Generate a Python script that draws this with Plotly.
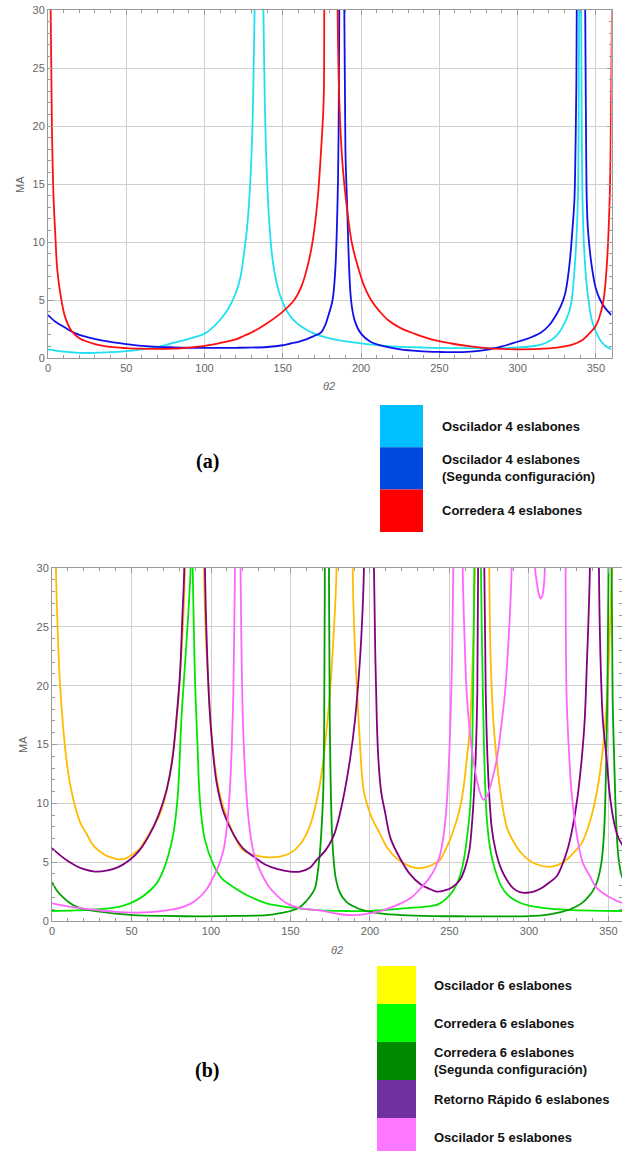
import plotly.graph_objects as go

# ---------------------------------------------------------------------------
# Data (theta2 in degrees, MA dimensionless).
# None splits a curve where it runs off the top at an asymptote.
# ---------------------------------------------------------------------------

# (a) Oscilador 4 eslabones
osc4_theta = [0, 10, 20, 25, 30, 40, 50, 60, 70, 80, 90, 100, 105, 110, 115, 120, 123, 125, 127, 128.5, 130, 131, 132, 133,
              None,
              136.5, 137.6, 138.5, 139.5, 141, 143, 145, 148, 152, 156, 162, 170, 180, 195, 215, 240, 265, 290, 305, 315,
              322, 326, 330, 333, 334.6, 336, 337.5, 338.5, 339, 339.3, 339.7,
              None,
              340.2, 340.6, 341, 341.5, 342.5, 344, 345.3, 347, 349, 350.6, 353, 356, 360]
osc4_ma = [0.75, 0.55, 0.45, 0.43, 0.45, 0.5, 0.6, 0.75, 0.95, 1.3, 1.65, 2.1, 2.6, 3.3, 4.2, 5.6, 7.0, 8.8, 11.0, 13.5, 17.5, 22, 30, 45,
           None,
           45, 30, 22, 17, 12.5, 9, 7.2, 5.5, 4.2, 3.4, 2.7, 2.1, 1.7, 1.35, 1.05, 0.9, 0.85, 0.85, 0.95, 1.15,
           1.6, 2.1, 3.0, 4.0, 5.0, 7.0, 10, 13.6, 20, 30, 50,
           None,
           50, 30, 20, 13.6, 9.5, 6.5, 5.0, 3.5, 2.6, 2.1, 1.5, 1.05, 0.75]

# (a) Oscilador 4 eslabones (Segunda configuracion)
osc4b_theta = [0, 5, 10, 17, 25, 35, 50, 65, 80, 100, 120, 140, 150, 155, 160, 165, 170, 174.4, 177, 179, 181.8, 183.5, 185,
               185.7, 186.1, 186.5,
               None,
               188.9, 189.3, 190, 191, 193.6, 196, 200, 206, 215, 225, 237, 250, 258, 270, 280, 290, 300, 305, 315, 320,
               325, 328, 330.3, 332, 333.5, 335, 336.3, 337, 337.5, 337.8, 338.3,
               None,
               342.8, 343.2, 343.7, 344.2, 345, 347.4, 350, 352.8, 356, 360]
osc4b_ma = [3.7, 3.1, 2.7, 2.15, 1.8, 1.5, 1.2, 1.0, 0.92, 0.88, 0.88, 0.95, 1.1, 1.25, 1.4, 1.6, 1.9, 2.2, 2.8, 3.6, 5.0, 7.5, 13.6,
            20, 30, 50,
            None,
            50, 30, 18, 13.6, 5.0, 3.2, 2.1, 1.4, 1.0, 0.75, 0.6, 0.52, 0.5, 0.55, 0.7, 1.0, 1.4, 1.6, 2.2, 2.8,
            3.8, 4.6, 5.5, 6.8, 8.5, 11, 13.6, 18, 23, 30, 50,
            None,
            50, 30, 20, 13.6, 11, 7.9, 6.0, 5.0, 4.3, 3.7]

# (a) Corredera 4 eslabones
corr4_theta = [0.9, 1.7, 2.5, 3.5, 4.6, 6, 8.3, 11, 15.2, 20, 30, 40, 50, 60, 70, 80, 90, 100, 110, 120, 125, 130, 140, 150,
               157.3, 162, 165.8, 169, 172.2, 174.5, 176.1, 176.5, 177,
               None,
               184.5, 185, 186.1, 188, 190.4, 194, 197.9, 202, 206.4, 212, 217, 225, 234, 245, 257.7, 270, 280, 290, 300,
               310, 315.4, 325, 335, 341, 345, 349.6, 352, 354.9, 357, 358.8, 359.6, 360.3, 360.6]
corr4_ma = [50, 30, 20, 14, 10.8, 7.5, 5.2, 3.5, 2.3, 1.7, 1.2, 0.95, 0.85, 0.8, 0.78, 0.8, 0.9, 1.05, 1.3, 1.6, 1.9, 2.2, 3.0, 4.0,
            5.0, 6.2, 7.9, 10, 13.6, 18, 22.2, 30, 50,
            None,
            50, 30, 22.2, 17, 13.6, 10, 7.9, 6.2, 5.0, 4.0, 3.3, 2.6, 2.1, 1.6, 1.25, 1.0, 0.85, 0.78, 0.75,
            0.76, 0.8, 0.9, 1.15, 1.5, 2.0, 2.7, 3.4, 5.0, 8.0, 13.6, 20, 30, 50]

# (b) Oscilador 6 eslabones
osc6_theta = [1.8, 2.5, 3.5, 5, 7, 9, 11.3, 15, 18, 21.8, 26, 32.3, 37, 41.7, 46, 50, 55, 57.4, 62, 67.9, 72, 76.3, 79, 81.5, 83,
              83.6, 84.2,
              None,
              95, 95.6, 96.5, 98.3, 100, 102.5, 106, 110, 115, 120.3, 127, 133, 138, 144, 149.7, 156, 162, 167.5, 170.5,
              172.5, 174.8, 177, 179, 179.6,
              None,
              188.5, 189.1, 190, 191.6, 193.5, 195.8, 198, 201, 206.3, 210.5, 216, 222, 229.4, 236, 241, 244, 248, 252,
              256.6, 259, 260.8, 262.9, 264, 265.2, 266, 266.6,
              None,
              274.4, 275, 275.9, 277.6, 279.7, 282, 286, 290, 295, 299.6, 305, 312.2, 318, 323.6, 328, 333.1, 338, 342.6,
              345.5, 347.8, 349.5, 351, 352, 352.6]
osc6_ma = [50, 30, 25, 20.2, 16.5, 13.8, 11.7, 9.5, 8.3, 7.4, 6.4, 5.7, 5.4, 5.24, 5.3, 5.6, 6.1, 6.6, 7.6, 9.1, 11, 14.5, 18, 23, 27,
           30, 50,
           None,
           50, 30, 25, 20.2, 16.5, 13.1, 10.5, 8.8, 7.1, 6.0, 5.6, 5.45, 5.4, 5.5, 5.75, 6.5, 8.0, 10.9, 13.5,
           16, 19.4, 24, 30, 50,
           None,
           50, 30, 25, 20.2, 15.5, 11.3, 10, 8.8, 7.4, 6.3, 5.4, 4.85, 4.5, 4.6, 4.9, 5.2, 6.2, 7.5,
           9.6, 11.5, 13.7, 16.5, 20, 25, 30, 50,
           None,
           50, 30, 22.2, 17, 13.7, 11, 8.0, 6.8, 5.8, 5.2, 4.8, 4.6, 4.75, 5.2, 5.8, 6.6, 8.3, 10.9,
           13.5, 16.5, 20, 25.2, 30, 50]

# (b) Corredera 6 eslabones
corr6_theta = [0, 15, 30, 42, 49, 55, 60, 65.8, 70, 73, 76.3, 79, 81.5, 83.5, 85.7, 86.7, 87.2, 87.6,
               None,
               88.2, 88.5, 89.2, 90, 91.5, 93, 96, 101.5, 107, 114, 124, 135, 150, 168.5, 185, 200, 210, 219.4, 230, 240,
               244, 248, 252.4, 256, 259, 261.4, 262.9, 264, 264.6, 265.2, 265.6, 266,
               None,
               269.4, 269.8, 270.4, 271.2, 272.2, 273.6, 276, 279, 282.4, 286, 292, 300, 310, 324, 340, 360]
corr6_ma = [0.85, 0.9, 1.0, 1.2, 1.5, 1.9, 2.4, 3.2, 4.3, 5.5, 7.4, 10.5, 17.4, 21.5, 26, 28.5, 30, 40,
            None,
            40, 30, 25, 20.2, 15, 10.3, 7.0, 4.8, 3.6, 2.9, 2.1, 1.5, 1.15, 0.9, 0.85, 0.85, 0.95, 1.05, 1.15, 1.3,
            1.5, 1.9, 2.6, 3.6, 5.2, 7.5, 9.5, 13, 17.4, 24, 30, 40,
            None,
            40, 30, 24, 18, 12.5, 8.5, 5.8, 4.2, 3.0, 2.3, 1.7, 1.3, 1.1, 0.95, 0.88, 0.85]

# (b) Corredera 6 eslabones (Segunda configuracion)
corr6b_theta = [0, 3, 7, 11, 15.5, 22, 30, 40, 51, 70, 93, 115, 135, 145, 150, 156, 160, 163, 165.4, 167, 168.6, 169.7, 170.6,
                171.2, 171.6, 172,
                None,
                173.8, 174.2, 174.7, 175.3, 176.1, 176.9, 178.5, 181.1, 185, 189.5, 196, 206.3, 220, 240, 260, 283, 300,
                312, 320, 326, 330, 334, 337, 340.4, 343, 345.6, 347.2, 348.3, 349.2, 350, 350.4,
                None,
                351.6, 352, 352.6, 353.6, 354.8, 356.2, 358, 360]
corr6b_ma = [3.3, 2.6, 2.0, 1.55, 1.2, 0.95, 0.8, 0.62, 0.5, 0.43, 0.4, 0.43, 0.5, 0.7, 0.85, 1.2, 1.7, 2.2, 2.8, 4.0, 6.0, 8.3, 11,
             17, 30, 45,
             None,
             45, 30, 17, 11.5, 7.5, 5.6, 3.6, 2.4, 1.65, 1.25, 0.9, 0.65, 0.5, 0.42, 0.4, 0.4, 0.42,
             0.55, 0.75, 1.0, 1.25, 1.6, 2.0, 2.6, 3.4, 5.0, 7.5, 12, 18, 30, 45,
             None,
             45, 30, 19, 13.7, 8.5, 5.5, 4.0, 3.3]

# (b) Retorno Rapido 6 eslabones
rr6_theta = [0, 5, 10, 15, 20, 27, 35, 42, 49, 55, 61.6, 67, 72, 75.5, 78.4, 80.5, 82, 83.2, 83.7,
             None,
             95.7, 96.2, 97.5, 99.4, 101.5, 103.6, 108, 114, 120, 126.6, 134, 142, 149.7, 156, 162, 166.5, 172, 177,
             179, 183, 187.4, 190.5, 193.7, 195.2, 196.2, 196.7,
             None,
             202, 202.5, 203.4, 204.3, 205.3, 207, 209.4, 213, 219, 225, 232, 238, 242, 247, 252, 256.6, 260, 262.5,
             264, 265.5, 266.5, 267.5, 268, 268.4,
             None,
             271.4, 271.9, 272.8, 274, 276.5, 279, 282, 286, 290, 294.3, 298.5, 303, 308, 313, 317.4, 321, 324.5, 327.5,
             330.5, 333.1, 335, 336.5, 337.5, 338.3, 338.8,
             None,
             343.5, 344, 345, 346.5, 348.9, 351, 354.1, 356.5, 360]
rr6_ma = [6.2, 5.6, 5.1, 4.7, 4.4, 4.2, 4.3, 4.6, 5.2, 6.0, 7.4, 9.0, 11.1, 13.5, 17.4, 21, 25.9, 30, 50,
          None,
          50, 30, 23, 17.4, 14, 11.7, 9.2, 7.4, 6.2, 5.5, 4.8, 4.4, 4.2, 4.2, 4.5, 5.2, 6.0, 7.2,
          8.0, 10.3, 13.7, 17, 22.2, 26, 30, 50,
          None,
          50, 30, 22.2, 17, 13.7, 11, 9.3, 7.0, 5.3, 4.0, 3.1, 2.7, 2.5, 2.6, 2.9, 3.5, 4.6, 6.0,
          8.0, 11, 14, 19.4, 30, 50,
          None,
          50, 30, 19.4, 13.5, 8.0, 6.0, 4.6, 3.5, 2.8, 2.45, 2.4, 2.5, 2.8, 3.3, 3.8, 4.8, 6.2, 8.0,
          10.5, 13.7, 17, 22.2, 26, 30, 50,
          None,
          50, 30, 22.2, 17, 13.7, 10.5, 8.0, 7.0, 6.2]

# (b) Oscilador 5 eslabones
osc5_theta = [0, 10, 20, 30, 40, 51, 62, 72, 82.6, 90, 97.3, 101, 104.5, 107.8, 110, 111.8, 113, 114, 114.7, 115.1, 115.5,
              None,
              118.2, 118.6, 119.2, 120, 121.5, 123.5, 126.5, 130.8, 136, 142, 147.6, 156, 168.5, 178, 188, 198, 208,
              219.4, 226, 232, 237, 241, 244, 246, 248, 249.5, 250.8, 251.7, 252.4, 252.8,
              None,
              257.9, 258.3, 259.5, 260.8, 263, 265, 267.5, 269.5, 271.3, 273.5, 276, 279.7, 282.5, 284.9, 287, 288.3,
              289.1, 289.5,
              None,
              303.3, 303.8, 304.8, 305.8, 306.6, 307.3, 308, 308.8, 309.5, 310, 310.5,
              None,
              322.6, 323, 323.6, 324.7, 325.8, 326.8, 328.5, 331, 334, 338.4, 342, 346.7, 351, 357.2, 360]
osc5_ma = [1.5, 1.25, 1.05, 0.9, 0.78, 0.72, 0.75, 0.9, 1.2, 1.7, 2.7, 3.6, 4.6, 6.0, 8.0, 11, 14.5, 19, 25.9, 30, 45,
           None,
           45, 30, 23, 17.4, 12.5, 8.8, 6.0, 4.3, 3.0, 2.1, 1.5, 1.1, 0.9, 0.65, 0.5, 0.6, 0.9,
           1.5, 2.0, 2.8, 3.6, 4.5, 5.6, 7.0, 9.5, 13, 18, 23, 30, 45,
           None,
           45, 30, 24, 19.4, 15.8, 13.7, 11.8, 10.8, 10.3, 10.6, 11.6, 13.7, 16.5, 19.4, 23.5, 27,
           30, 45,
           None,
           40, 30, 28.9, 28.0, 27.6, 27.4, 27.5, 27.9, 28.7, 30, 40,
           None,
           45, 30, 19.4, 15.5, 12.8, 10.9, 8.8, 6.6, 4.9, 3.8, 2.9, 2.35, 2.0, 1.6, 1.5]

# Legend labels and colours
legend_a = ["Oscilador 4 eslabones",
            "Oscilador 4 eslabones<br>(Segunda configuración)",
            "Corredera 4 eslabones"]
legend_a_colors = ["#00BFFF", "#0048E0", "#FF0000"]

legend_b = ["Oscilador 6 eslabones",
            "Corredera 6 eslabones",
            "Corredera 6 eslabones<br>(Segunda configuración)",
            "Retorno Rápido 6 eslabones",
            "Oscilador 5 eslabones"]
legend_b_colors = ["#FFFF00", "#00FF00", "#008A00", "#7030A0", "#FF77FF"]

W, H = 622, 1151
FONT = "Liberation Sans, Arial, sans-serif"


def px(x):
    """pixel x -> paper x"""
    return x / W


def py(y):
    """pixel y (from top) -> paper y"""
    return 1 - y / H


fig = go.Figure()

# Curves of panel (a)
for theta, ma, color in [
    (osc4_theta, osc4_ma, "#1EE0F0"),
    (osc4b_theta, osc4b_ma, "#1010E8"),
    (corr4_theta, corr4_ma, "#FF1010"),
]:
    fig.add_trace(go.Scatter(x=theta, y=ma, mode="lines", xaxis="x", yaxis="y",
                             line=dict(color=color, width=1.8, shape="spline", smoothing=1.0),
                             connectgaps=False, showlegend=False, hoverinfo="skip"))

# Curves of panel (b)
for theta, ma, color in [
    (osc6_theta, osc6_ma, "#FFBB00"),
    (corr6_theta, corr6_ma, "#00E600"),
    (corr6b_theta, corr6b_ma, "#00A000"),
    (rr6_theta, rr6_ma, "#800080"),
    (osc5_theta, osc5_ma, "#FF66FF"),
]:
    fig.add_trace(go.Scatter(x=theta, y=ma, mode="lines", xaxis="x2", yaxis="y2",
                             line=dict(color=color, width=1.8, shape="spline", smoothing=1.0),
                             connectgaps=False, showlegend=False, hoverinfo="skip"))

# Mathematica-like framed axes (automargin off so paper coords == pixels)
axis_common = dict(
    showline=True, linecolor="#9a9a9a", linewidth=1, mirror="allticks",
    ticks="inside", ticklen=5, tickcolor="#9a9a9a",
    showgrid=True, gridcolor="#cfcfcf", gridwidth=1, zeroline=False,
    tickfont=dict(family=FONT, size=11, color="#666666"),
    automargin=False,
)
x_common = dict(axis_common, dtick=50, tick0=0,
                minor=dict(dtick=10, ticks="inside", ticklen=3, tickcolor="#9a9a9a", showgrid=False))
y_common = dict(axis_common, dtick=5, tick0=0,
                minor=dict(dtick=1, ticks="inside", ticklen=3, tickcolor="#9a9a9a", showgrid=False))

fig.update_layout(
    width=W, height=H,
    margin=dict(l=0, r=0, t=0, b=0, autoexpand=False),
    paper_bgcolor="white", plot_bgcolor="white",
    xaxis=dict(x_common, domain=[px(48), px(611.5)], range=[0, 360], anchor="y"),
    yaxis=dict(y_common, domain=[py(358), py(10)], range=[0, 30], anchor="x"),
    xaxis2=dict(x_common, domain=[px(52), 1.0], range=[0, 358.5], anchor="y2"),
    yaxis2=dict(y_common, domain=[py(921), py(568)], range=[0, 30], anchor="x2"),
)

annotations = []
shapes = []


def label(x, y, text, **kw):
    """Text centred on a pixel position"""
    annotations.append(dict(x=px(x), y=py(y), xref="paper", yref="paper", text=text, showarrow=False,
                            xanchor="center", yanchor="middle", **kw))


# axis titles
for x, y in [(20, 185), (23, 745)]:
    label(x, y, "MA", textangle=-90, font=dict(family=FONT, size=11, color="#666666"))
for x, y in [(329, 386), (337, 950)]:
    label(x, y, "<i>θ2</i>", font=dict(family=FONT, size=11, color="#666666"))

# panel labels
for text, y in [("(a)", 462), ("(b)", 1070)]:
    label(207, y, "<b>%s</b>" % text,
          font=dict(family="Liberation Serif, Times New Roman, serif", size=20, color="black"))


def add_legend(labels, colors, x0, x1, y_top, box_h, text_x, last_bottom=None):
    """Colour swatch column with bold labels to the right"""
    for i, (text, color) in enumerate(zip(labels, colors)):
        top = y_top + i * box_h
        bottom = top + box_h
        if last_bottom is not None and i == len(labels) - 1:
            bottom = last_bottom
        shapes.append(dict(type="rect", xref="paper", yref="paper", x0=px(x0), x1=px(x1),
                           y0=py(bottom), y1=py(top), fillcolor=color, line=dict(width=0), layer="above"))
        annotations.append(dict(x=px(text_x), y=py(top + box_h / 2), xref="paper", yref="paper",
                                text="<b>%s</b>" % text, showarrow=False, xanchor="left", yanchor="middle",
                                align="left", font=dict(family=FONT, size=13, color="#111111")))


add_legend(legend_a, legend_a_colors, 380, 423, 405, 42.3, 440)
add_legend(legend_b, legend_b_colors, 377, 416, 966, 38, 432, last_bottom=1151)

fig.update_layout(annotations=annotations, shapes=shapes)

# drop the browser's default 8px body margin so the figure sits at (0, 0)
fig.write_html("out.html", config={"displayModeBar": False},
               post_script="document.body.style.margin = '0';")
